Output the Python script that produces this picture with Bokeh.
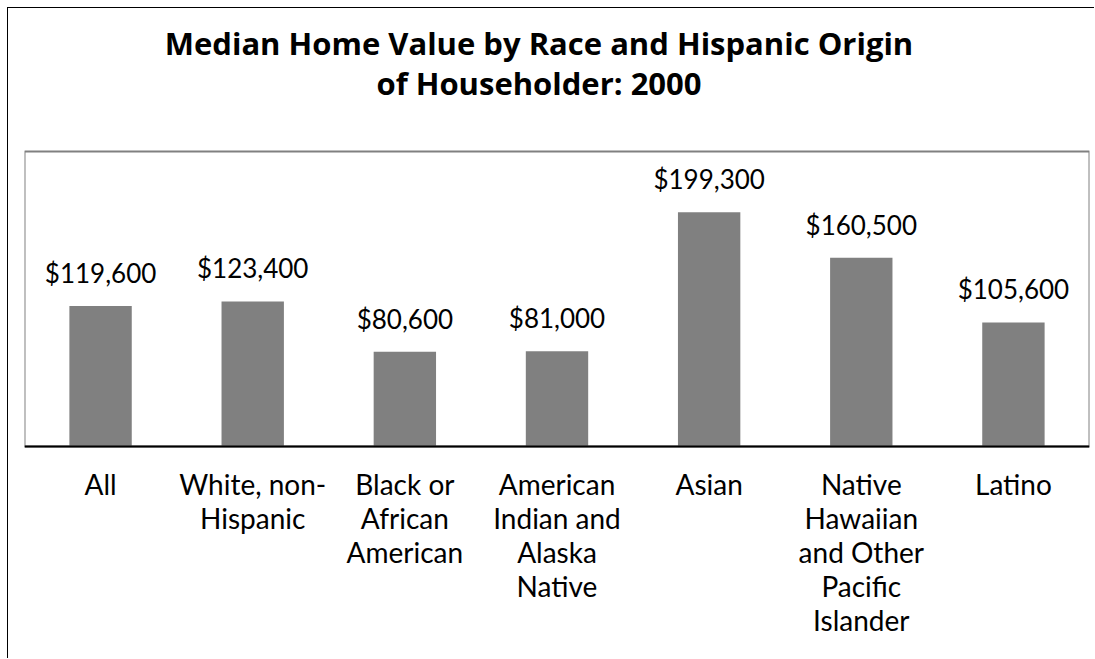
from bokeh.plotting import figure
from bokeh.models import Range1d, ColumnDataSource, BoxAnnotation, Span
from bokeh.core.properties import value
from bokeh.embed import file_html
from bokeh.resources import INLINE

categories = ["All", "White, non-Hispanic", "Black or African American",
              "American Indian and Alaska Native", "Asian",
              "Native Hawaiian and Other Pacific Islander", "Latino"]
tick_labels = ["All", "White, non-\nHispanic", "Black or\nAfrican\nAmerican",
               "American\nIndian and\nAlaska\nNative", "Asian",
               "Native\nHawaiian\nand Other\nPacific\nIslander", "Latino"]
values = [119600, 123400, 80600, 81000, 199300, 160500, 105600]
value_labels = ["${:,}".format(v) for v in values]
title_lines = ["Median Home Value by Race and Hispanic Origin", "of Householder: 2000"]
AX_MAX = 251000  # top of the value axis (top of the plot box)

FONT = "Lato"
TFONT = "Open Sans"

W, H = 1087, 651
BOX_PX = 295          # height of the plot box in pixels
BELOW_PX = 213        # space under the baseline
ABOVE_PX = H - BELOW_PX - BOX_PX
y_start = -AX_MAX * BELOW_PX / BOX_PX
y_end = AX_MAX + AX_MAX * ABOVE_PX / BOX_PX

src = ColumnDataSource(dict(cat=categories, val=values, lab=value_labels))

lc, lt, lo = [], [], []
for c, t in zip(categories, tick_labels):
    for i, line in enumerate(t.split("\n")):
        lc.append(c)
        lt.append(line)
        lo.append(37 + 34 * i)
lsrc = ColumnDataSource(dict(cat=lc, txt=lt, y=[0] * len(lc), off=lo))

mid = categories[3]
tsrc = ColumnDataSource(dict(x=[mid, mid], y=[AX_MAX, AX_MAX], txt=title_lines,
                             off=[-109, -69]))

p = figure(x_range=categories, y_range=Range1d(y_start, y_end),
           width=W, height=H, output_backend="svg", toolbar_location=None,
           min_border_left=16, min_border_right=6, min_border_top=0,
           min_border_bottom=0, x_axis_location=None, y_axis_location=None,
           styles={"border-left": "1px solid black", "border-top": "1px solid black",
                   "margin-left": "7px", "margin-top": "7px"})
p.title.visible = False
p.xgrid.visible = False
p.ygrid.visible = False
p.outline_line_color = None

p.vbar(x="cat", top="val", width=0.41, source=src, fill_color="#808080",
       line_color=None)
p.text(x="cat", y="val", text="lab", source=src, text_align="center",
       text_baseline="alphabetic", y_offset=-33, text_font=value(FONT),
       text_font_size="26px", text_color="black")
p.text(x="cat", y="y", text="txt", source=lsrc, y_offset="off",
       text_align="center", text_baseline="alphabetic", text_font=value(FONT),
       text_font_size="28px", text_color="black")
p.text(x="x", y="y", text="txt", source=tsrc, y_offset="off", x_offset=-18,
       text_align="center", text_baseline="alphabetic", text_font=value(TFONT),
       text_font_style="bold", text_font_size="31px", text_color="black")

p.add_layout(BoxAnnotation(bottom=0, top=AX_MAX, fill_color=None, fill_alpha=0,
                           line_color="#808080", line_alpha=1.0, line_width=2))
p.add_layout(Span(location=0, dimension="width", line_color="black", line_width=2))

open("out.html", "w").write(file_html(p, INLINE))
